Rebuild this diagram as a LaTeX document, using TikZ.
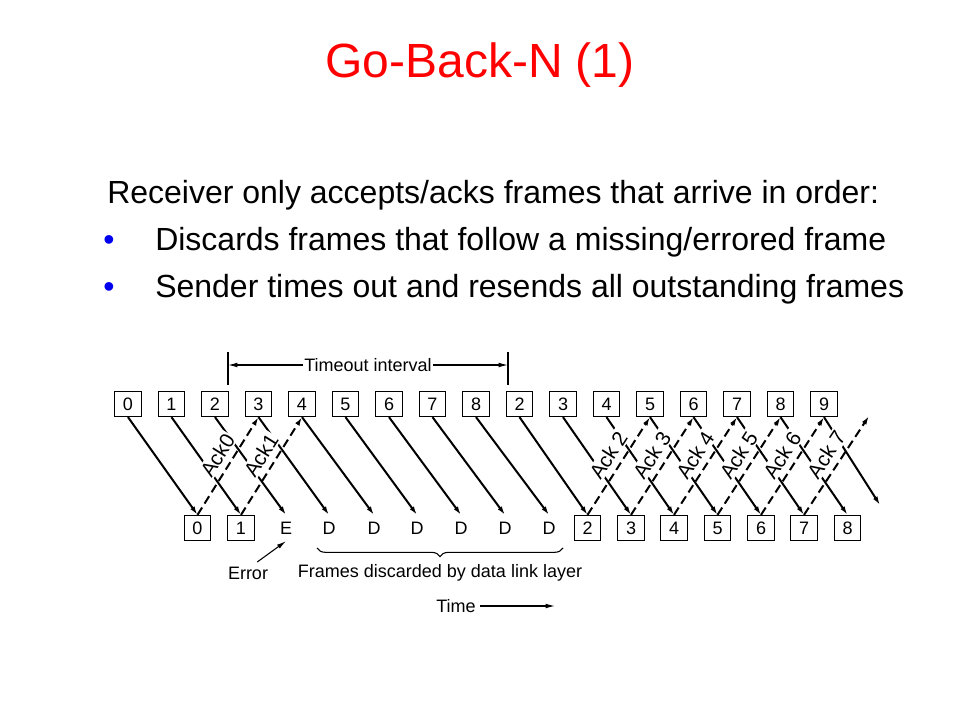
\documentclass[tikz,border=0pt]{standalone}
\usepackage{fontspec}
\setmainfont{Liberation Sans}
\usetikzlibrary{arrows.meta,decorations.pathreplacing}
\definecolor{titlered}{RGB}{255,0,0}
\definecolor{bulletblue}{RGB}{0,0,240}

\begin{document}
\begin{tikzpicture}[x=0.75pt, y=-0.75pt,
	small/.style={font=\fontsize{13.5}{16}\selectfont},
	frame/.style={shape=rectangle, draw=black, line width=0.9pt, minimum width=19.8pt, minimum height=18.8pt, inner sep=0pt, small},
	slot/.style={frame, draw=none},
	data/.style={-{Latex[length=6.5pt,width=3.8pt]}, line width=1.5pt},
	ack/.style={data, dash pattern=on 6.5pt off 3.5pt},
	acklabel/.style={sloped, above=3.5pt, pos=0.53, fill=white, inner sep=1pt, font=\fontsize{15.5}{18}\selectfont},
	thinarrow/.style={-{Latex[length=7pt,width=3.5pt]}, line width=0.8pt},
	body/.style={anchor=base west, inner sep=0pt, font=\fontsize{24}{28}\selectfont},
	bullet/.style={body, text=bulletblue}]
	
	\path[fill=white] (0,0) rectangle (960,720);
	
	\node[anchor=base, text=titlered, font=\fontsize{36}{40}\selectfont] (title) at (480,78) {Go-Back-N (1)};
	\node[body] (intro) at (107,204) {Receiver only accepts/acks frames that arrive in order:};
	\node[bullet] (dot1) at (103,251) {•};
	\node[body] (item1) at (155,251) {Discards frames that follow a missing/errored frame};
	\node[bullet] (dot2) at (103,297) {•};
	\node[body] (item2) at (155,297) {Sender times out and resends all outstanding frames};
	
	\node[frame] (s0) at (128, 404)   {0};
	\node[frame] (s1) at (171.5, 404) {1};
	\node[frame] (s2) at (215, 404)   {2};
	\node[frame] (s3) at (258.5, 404) {3};
	\node[frame] (s4) at (302, 404)   {4};
	\node[frame] (s5) at (345.5, 404) {5};
	\node[frame] (s6) at (389, 404)   {6};
	\node[frame] (s7) at (432.5, 404) {7};
	\node[frame] (s8) at (476, 404)   {8};
	\node[frame] (s9) at (519.5, 404) {2};
	\node[frame] (s10) at (563, 404)  {3};
	\node[frame] (s11) at (606.5, 404) {4};
	\node[frame] (s12) at (650, 404)  {5};
	\node[frame] (s13) at (693.5, 404) {6};
	\node[frame] (s14) at (737, 404)  {7};
	\node[frame] (s15) at (780.5, 404) {8};
	\node[frame] (s16) at (824, 404)  {9};
	\coordinate (s17) at (869, 416);
	
	\node[frame] (r0) at (197.5, 528) {0};
	\node[frame] (r1) at (241, 528)   {1};
	\node[slot] (r2) at (286, 528)    {E};
	\node[slot] (r3) at (329, 528)    {D};
	\node[slot] (r4) at (374, 528)    {D};
	\node[slot] (r5) at (417, 528)    {D};
	\node[slot] (r6) at (461, 528)    {D};
	\node[slot] (r7) at (505, 528)    {D};
	\node[slot] (r8) at (549, 528)    {D};
	\node[frame] (r9) at (587.5, 528) {2};
	\node[frame] (r10) at (631, 528)  {3};
	\node[frame] (r11) at (674, 528)  {4};
	\node[frame] (r12) at (717.5, 528) {5};
	\node[frame] (r13) at (761, 528)  {6};
	\node[frame] (r14) at (804, 528)  {7};
	\node[frame] (r15) at (847.5, 528) {8};
	\coordinate (r16) at (880, 505);
	
	\path[data] (s0.south) edge (r0.north);
	\path[data] (s1.south) edge (r1.north);
	\path[data] (s2.south) edge (r2.north);
	\path[data] (s3.south) edge (r3.north);
	\path[data] (s4.south) edge (r4.north);
	\path[data] (s5.south) edge (r5.north);
	\path[data] (s6.south) edge (r6.north);
	\path[data] (s7.south) edge (r7.north);
	\path[data] (s8.south) edge (r8.north);
	\path[data] (s9.south) edge (r9.north);
	\path[data] (s10.south) edge (r10.north);
	\path[data] (s11.south) edge (r11.north);
	\path[data] (s12.south) edge (r12.north);
	\path[data] (s13.south) edge (r13.north);
	\path[data] (s14.south) edge (r14.north);
	\path[data] (s15.south) edge (r15.north);
	\path[data] (s16.south) edge (r16);
	
	\path[ack] (r0.north) edge node[acklabel]{Ack0} (s3.south);
	\path[ack] (r1.north) edge node[acklabel]{Ack1} (s4.south);
	\path[ack] (r9.north) edge node[acklabel]{Ack 2} (s12.south);
	\path[ack] (r10.north) edge node[acklabel]{Ack 3} (s13.south);
	\path[ack] (r11.north) edge node[acklabel]{Ack 4} (s14.south);
	\path[ack] (r12.north) edge node[acklabel]{Ack 5} (s15.south);
	\path[ack] (r13.north) edge node[acklabel]{Ack 6} (s16.south);
	\path[ack] (r14.north) edge node[acklabel]{Ack 7} (s17);
	
	\coordinate (tA) at (228, 352);
	\coordinate (tB) at (228, 385);
	\coordinate (tC) at (508, 352);
	\coordinate (tD) at (508, 385);
	\coordinate (tL) at (228, 365);
	\coordinate (tR) at (508, 365);
	\draw[line width=0.8pt] (tA) -- (tB);
	\draw[line width=0.8pt] (tC) -- (tD);
	\path[{Latex[length=7pt,width=3.5pt]}-{Latex[length=7pt,width=3.5pt]}, line width=0.8pt] (tL) edge node[fill=white, inner sep=1pt, small] (timeout) {Timeout interval} (tR);
	
	\coordinate (bL) at (317, 548);
	\coordinate (bR) at (563, 548);
	\draw[decorate, decoration={brace, mirror, amplitude=6.5pt}, line width=0.8pt] (bL) -- (bR);
	\node[small] (discard) at (440, 573) {Frames discarded by data link layer};
	
	\node[small] (err) at (248, 573) {Error};
	\path[thinarrow] (err.50) edge (r2.south);
	
	\node[small] (time) at (456, 606) {Time};
	\coordinate (tEnd) at (555, 606);
	\path[thinarrow] (time.east) edge (tEnd);
	
\end{tikzpicture}
\end{document}
